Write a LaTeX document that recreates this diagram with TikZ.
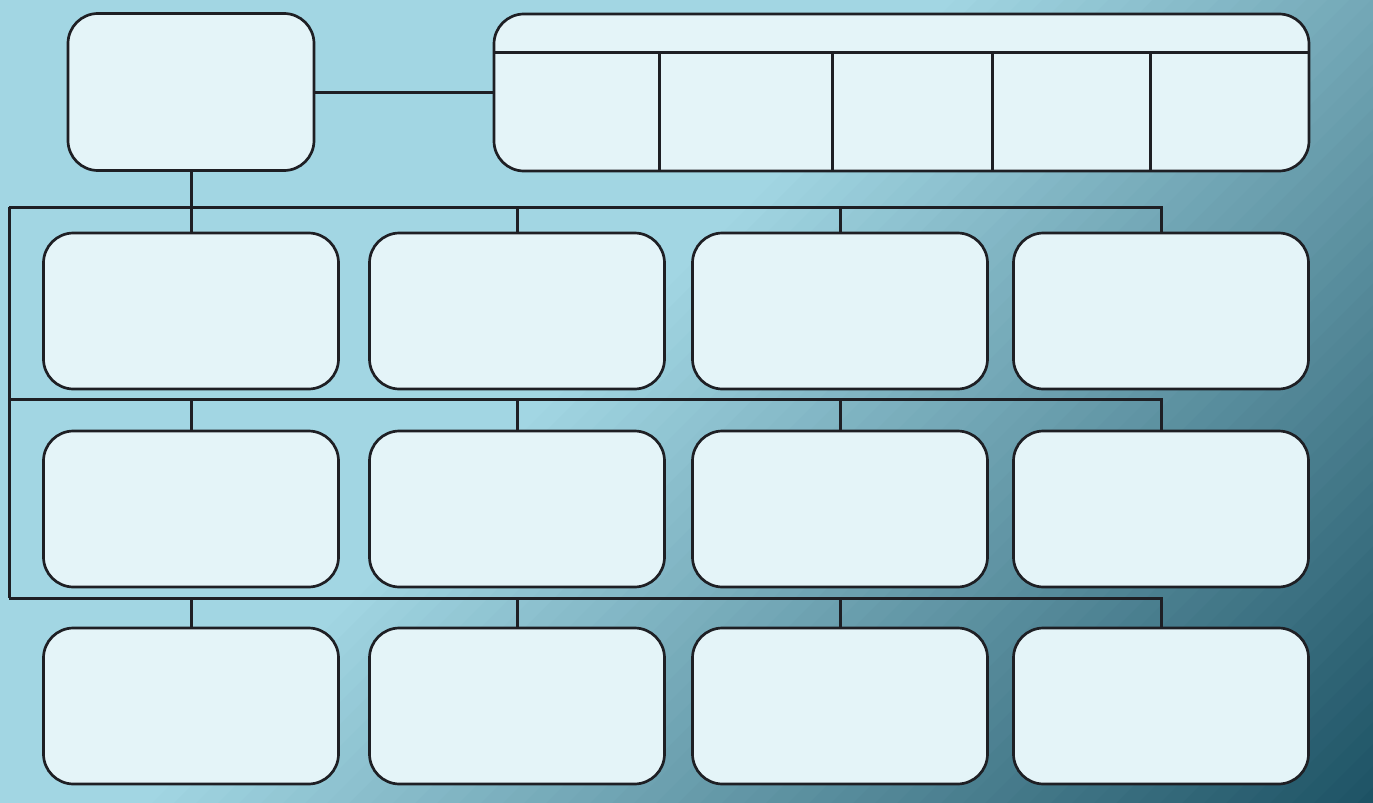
\documentclass[tikz,border=0pt]{standalone}
\usetikzlibrary{positioning}
\definecolor{bglight}{HTML}{A2D6E3}
\definecolor{bgdark}{HTML}{1B5062}
\definecolor{boxfill}{HTML}{E4F4F8}
\definecolor{boxline}{HTML}{1E1F24}
\tikzset{
  cell/.style={draw=boxline, fill=boxfill, line width=1.35pt, rounded corners=15pt,
    minimum width=147.5pt, minimum height=78pt, inner sep=0pt},
  wire/.style={draw=boxline, line width=1.5pt}
}
\begin{document}
\begin{tikzpicture}[x=0.5pt, y=-0.5pt]
  \useasboundingbox (0,0) rectangle (1373,803);
  % background
  \begin{scope}
    \clip (0,0) rectangle (1373,803);
    \fill[bglight] (0,0) rectangle (1373,803);
    \begin{scope}[rotate=-45]
      \foreach \i [evaluate=\i as \p using \i*100/57] in {0,...,57}
        \fill[bgdark!\p!bglight] (660+\i*15.5,-1000) rectangle (660+\i*15.5+17,620);
    \end{scope}
  \end{scope}
  % top row
  \node[cell, minimum width=123pt, minimum height=78.5pt] (root) at (191,92) {};
  \node[cell, minimum width=407.5pt, minimum height=78.5pt] (tbl) at (901.5,92.5) {};
  \coordinate (hdr) at (494,52);
  \draw[wire] (hdr) -- (hdr -| tbl.east);
  \foreach \x in {659,832,992,1150}
    \draw[wire] (\x,52) -- (\x,171);
  \draw[wire] (root.east) -- (root.east -| tbl.west);
  % grid of boxes
  \foreach \r/\y in {1/311,2/509,3/706}
    \foreach \c/\x in {1/191,2/517,3/840,4/1161}
      \node[cell] (b\r\c) at (\x,\y) {};
  % buses
  \coordinate (busA) at (9,207);
  \coordinate (busB) at (9,399);
  \coordinate (busC) at (9,598);
  \draw[wire] (busA) -- (busC);
  \draw[wire] (root.south) -- (b11.north);
  \foreach \r/\bus in {1/busA,2/busB,3/busC} {
    \draw[wire] (\bus) -- (\bus -| b\r4.north) -- (b\r4.north);
    \foreach \c in {2,3}
      \draw[wire] (b\r\c.north) -- (b\r\c.north |- \bus);
  }
  \draw[wire] (b21.north) -- (b21.north |- busB);
  \draw[wire] (b31.north) -- (b31.north |- busC);
\end{tikzpicture}
\end{document}
